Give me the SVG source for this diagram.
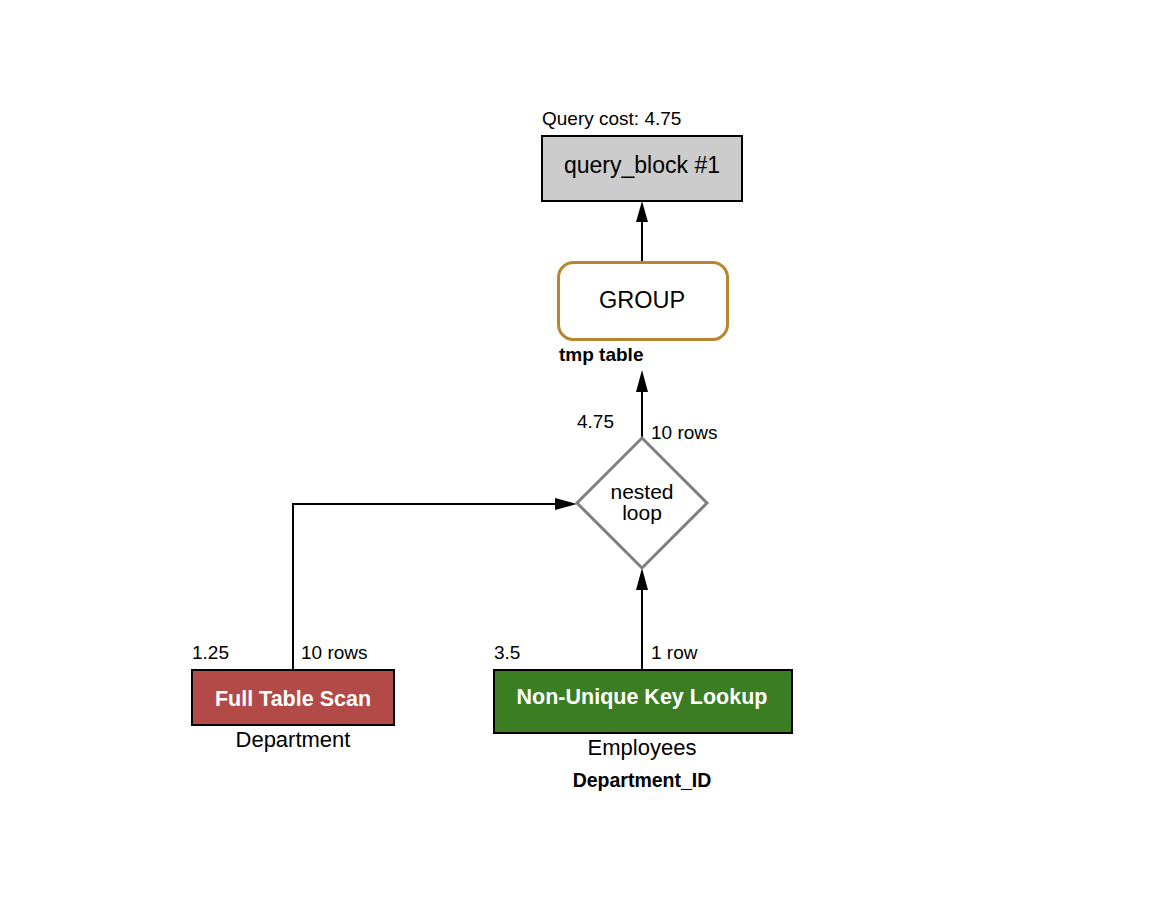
<svg xmlns="http://www.w3.org/2000/svg" width="1150" height="912" viewBox="0 0 1150 912">
<defs>
<style>
text{font-family:"Liberation Sans",Arial,sans-serif;fill:#000}
.lbl{font-size:19px}
.b{font-weight:bold}
.w{fill:#fff;font-weight:bold;font-size:21.5px}
.edge{stroke:#000;stroke-width:2;fill:none}
</style>
</defs>
<rect width="1150" height="912" fill="#fff"/>
<g id="connectors">
<path class="edge" d="M642,262 V210"/>
<path d="M642,201 L636,222 L648,222 Z" fill="#000"/>
<path class="edge" d="M642,438 V380"/>
<path d="M642,370 L636,392 L648,392 Z" fill="#000"/>
<path class="edge" d="M293,670 V504 H565"/>
<path d="M577,504 L555,498 L555,510 Z" fill="#000"/>
<path class="edge" d="M642,670 V580"/>
<path d="M642,568 L636,590 L648,590 Z" fill="#000"/>
</g>
<g id="query_block">
<text class="lbl" x="542" y="125">Query cost: 4.75</text>
<rect x="542" y="136" width="200" height="65" fill="#cccccc" stroke="#000" stroke-width="2"/>
<text x="642" y="173" text-anchor="middle" font-size="23">query_block #1</text>
</g>
<g id="group">
<rect x="558.5" y="262.5" width="169" height="77" rx="15" fill="#fff" stroke="#b8862e" stroke-width="3"/>
<text x="642" y="308" text-anchor="middle" font-size="23.5">GROUP</text>
<text class="lbl b" x="559" y="361">tmp table</text>
</g>
<g id="nested_loop">
<polygon points="642,438 707,503 642,568 577,503" fill="#fff" stroke="#808080" stroke-width="3"/>
<text x="642" y="499" text-anchor="middle" font-size="21">nested</text>
<text x="642" y="520" text-anchor="middle" font-size="21">loop</text>
<text class="lbl" x="577" y="428">4.75</text>
<text class="lbl" x="651" y="439">10 rows</text>
</g>
<g id="full_table_scan">
<rect x="192" y="670" width="202" height="55" fill="#b24a47" stroke="#000" stroke-width="2"/>
<text class="w" x="293" y="706" text-anchor="middle">Full Table Scan</text>
<text class="lbl" x="192" y="659">1.25</text>
<text class="lbl" x="301" y="659">10 rows</text>
<text x="293" y="747" text-anchor="middle" font-size="22">Department</text>
</g>
<g id="non_unique_key_lookup">
<rect x="494" y="670" width="298" height="63" fill="#3a7d23" stroke="#000" stroke-width="2"/>
<text class="w" x="642" y="704" text-anchor="middle">Non-Unique Key Lookup</text>
<text class="lbl" x="494" y="659">3.5</text>
<text class="lbl" x="651" y="659">1 row</text>
<text x="642" y="755" text-anchor="middle" font-size="22">Employees</text>
<text class="b" x="642" y="787" text-anchor="middle" font-size="19.5">Department_ID</text>
</g>
</svg>
